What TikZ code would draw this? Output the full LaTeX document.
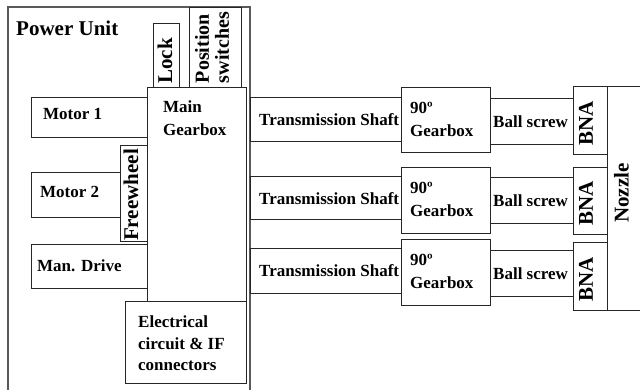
\documentclass[tikz,border=0pt]{standalone}
\usepackage{fontspec}
\setmainfont{Liberation Serif}
\colorlet{frame}{black!65}
\colorlet{edge}{black!85}

\begin{document}
\begin{tikzpicture}[x=1pt,y=-1pt,
    box/.style={draw=edge,line width=1pt},
    lbl/.style={font=\fontsize{17}{23}\selectfont\bfseries,inner sep=0pt,align=left},
    vlbl/.style={font=\fontsize{21}{22}\selectfont\bfseries,inner sep=0pt,rotate=90,align=left},
  ]
  \clip (0,0) rectangle (640,389);
  \fill[white] (0,0) rectangle (640,389);

  % POWER UNIT
  \draw[frame,line width=1.6pt] (8,7) rectangle (250,400);
  \node[lbl,font=\fontsize{21}{23}\selectfont\bfseries,anchor=base west] (power) at (16,35) {Power Unit};

  \draw[box] (153,23) rectangle (179,87);   % lock
  \draw[box] (189,7) rectangle (241,87);    % position switches
  \draw[box] (31,97) rectangle (147,137);   % motor 1
  \draw[box] (31,172) rectangle (120,217);  % motor 2
  \draw[box] (120,145) rectangle (147,241); % freewheel
  \draw[box] (31,244) rectangle (147,288);  % manual drive
  \draw[box] (147,87) rectangle (246,301);  % main gearbox
  \draw[box] (125,301) rectangle (246,383); % electrical

  \node[vlbl] (lock) at (165,61) {Lock};
  \node[vlbl,font=\fontsize{20}{20}\selectfont\bfseries] (switches) at (212,47.5) {Position\\switches};
  \node[lbl,anchor=base west] (motor1) at (43,119) {Motor 1};
  \node[lbl,anchor=base west] (motor2) at (40,197) {Motor 2};
  \node[vlbl] (freewheel) at (131,195) {Freewheel};
  \node[lbl,anchor=base west] (mandrive) at (37,271) {Man. Drive};
  \node[lbl,anchor=north west] (maingear) at (163,100.5) {Main\\Gearbox};
  \node[lbl,anchor=north west,font=\fontsize{17}{21.5}\selectfont\bfseries] (elec) at (138,315.5)
    {Electrical\\circuit \& IF\\connectors};

  % DRIVE LINES
  \foreach \i/\ys/\Ys/\yg/\Yg/\yb/\Yb/\yn/\Yn [evaluate={
                 \bs=\ys+28;
                 \bg=\yg+26;
                 \bb=\yb+29;
                 \cn=(\yn+\Yn)/2+3;
               }] in {1/97/141/87/152/98/144/86/154,
                      2/176/219/167/233/177/223/167/234,
                      3/248/293/239/305/250/296/242/310}{
    \draw[box] (250,\ys) rectangle (401,\Ys); % shaft
    \draw[box] (401,\yg) rectangle (490,\Yg); % 90 gearbox
    \draw[box] (490,\yb) rectangle (573,\Yb); % ball screw
    \draw[box] (573,\yn) rectangle (607,\Yn); % BNA
    \node[lbl,anchor=base west] (shaft\i) at (259,\bs) {Transmission Shaft};
    \node[lbl,anchor=north west] (gear\i) at (410,\yg+14.5) {90º\\Gearbox};
    \node[lbl,anchor=base west] (screw\i) at (493,\bb) {Ball screw};
    \node[vlbl] (bna\i) at (586,\cn) {BNA};
  }

  % NOZZLE
  \draw[box] (607,86) rectangle (660,310);
  \node[vlbl] (nozzle) at (621.5,193) {Nozzle};

\end{tikzpicture}
\end{document}
